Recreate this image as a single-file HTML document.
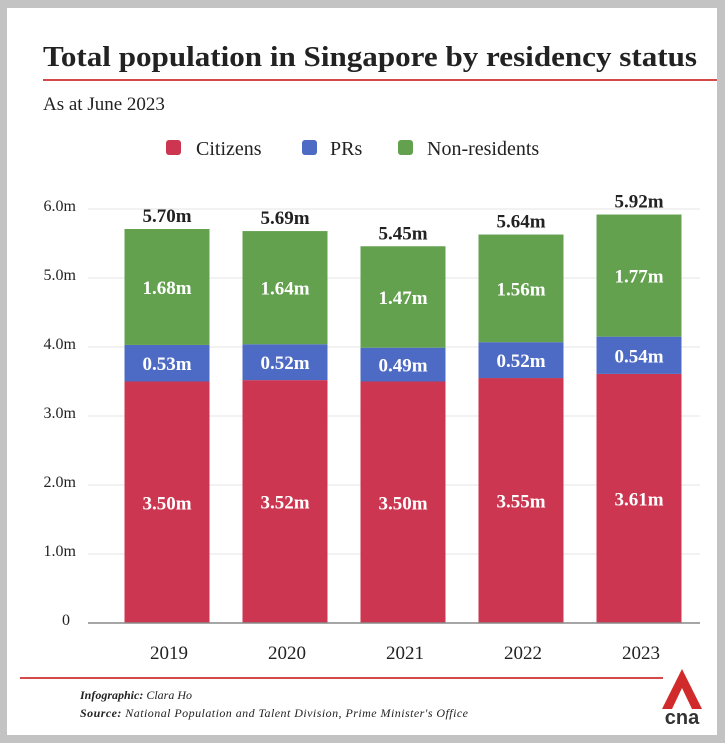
<!DOCTYPE html>
<html><head><meta charset="utf-8"><style>
body{margin:0;background:#c3c3c3;width:725px;height:743px;overflow:hidden;font-family:"Liberation Serif",serif}
#card{position:absolute;left:7px;top:8px;width:710px;height:727px;background:#fff}
</style></head><body>
<div id="card"></div>
<svg id="chart" width="725" height="743" style="position:absolute;left:0;top:0">
<text x="43" y="66" font-size="29" font-weight="bold" fill="#222" textLength="654" lengthAdjust="spacingAndGlyphs">Total population in Singapore by residency status</text>
<line x1="43" y1="80" x2="717" y2="80" stroke="#d44a4a" stroke-width="2"/>
<text x="43" y="110" font-size="19" fill="#222">As at June 2023</text>
<g>
<rect x="166" y="140" width="15" height="15" rx="3" fill="#cc3650"/>
<text x="196" y="155" font-size="20" fill="#222">Citizens</text>
<rect x="302" y="140" width="15" height="15" rx="3" fill="#4d6bc4"/>
<text x="330" y="155" font-size="20" fill="#222">PRs</text>
<rect x="398" y="140" width="15" height="15" rx="3" fill="#63a14f"/>
<text x="427" y="155" font-size="20" fill="#222">Non-residents</text>
</g>
<g id="plot"></g>
<line x1="20" y1="678" x2="663" y2="678" stroke="#d44a4a" stroke-width="2"/>
<text x="80" y="699" font-size="12" font-style="italic" fill="#222"><tspan font-weight="bold">Infographic:</tspan>  Clara Ho</text>
<text x="80" y="717" font-size="12" font-style="italic" fill="#222" textLength="388"><tspan font-weight="bold">Source:</tspan>   National Population and Talent Division, Prime Minister's Office</text>
<g>
<polygon points="682,669 702,709 692,709 682,688 672,709 662,709" fill="#d12a2a"/>
<text x="682" y="724" font-size="20" font-family="Liberation Sans, sans-serif" font-weight="bold" fill="#333" text-anchor="middle">cna</text>
</g>
</svg>
<script>
const years=["2019","2020","2021","2022","2023"];
const citizens=[3.50,3.52,3.50,3.55,3.61];
const prs=[0.53,0.52,0.49,0.52,0.54];
const nonres=[1.68,1.64,1.47,1.56,1.77];
const totals=[5.70,5.69,5.45,5.64,5.92];
const ticks=[0,1,2,3,4,5,6];
const tickLabels=["0","1.0m","2.0m","3.0m","4.0m","5.0m","6.0m"];
const NS="http://www.w3.org/2000/svg";
const g=document.getElementById('plot');
const y0=623,yTop=209,x0=88,x1=700;
const y=v=>y0-(v/6)*(y0-yTop);
const bw=85;
const xc=i=>167+118*i;
function mk(tag,attrs){const e=document.createElementNS(NS,tag);for(const k in attrs)e.setAttribute(k,attrs[k]);g.appendChild(e);return e;}
ticks.forEach((t,i)=>{
  if(t>0){const l=mk('line',{x1:x0,x2:x1,y1:y(t),y2:y(t),stroke:'#e6e6e6'});
  
  }
  const tx=mk('text',{x:t===0?70:76,y:y(t)+2,'font-size':16,'text-anchor':'end',fill:'#222'});
  tx.textContent=tickLabels[i];
  
  
});
const segs=[["citizens",citizens,"#cc3650"],["prs",prs,"#4d6bc4"],["non-residents",nonres,"#63a14f"]];
years.forEach((yr,i)=>{
  let base=0;const cx=xc(i);
  segs.forEach(([nm,arr,col])=>{
    const v=arr[i];
    const top=base+v;
    const r=mk('rect',{x:cx-bw/2,y:y(top),width:bw,height:y(base)-y(top),fill:col});
    
    
    const t=mk('text',{x:cx,y:(y(base)+y(top))/2+7,'font-size':19,'font-weight':'bold','text-anchor':'middle',fill:'#fff'});
    t.textContent=v.toFixed(2)+'m';
    
    
    base=top;
  });
  const tt=mk('text',{x:cx,y:y(base)-7,'font-size':19,'font-weight':'bold','text-anchor':'middle',fill:'#222'});
  tt.textContent=totals[i].toFixed(2)+'m';
  
  
  const xl=mk('text',{x:cx+2,y:659,'font-size':19,'text-anchor':'middle',fill:'#222'});
  xl.textContent=yr;
  
  
});
const ax=mk('line',{x1:x0,x2:x1,y1:y0,y2:y0,stroke:'#888','stroke-width':1.5});


</script>
</body></html>
